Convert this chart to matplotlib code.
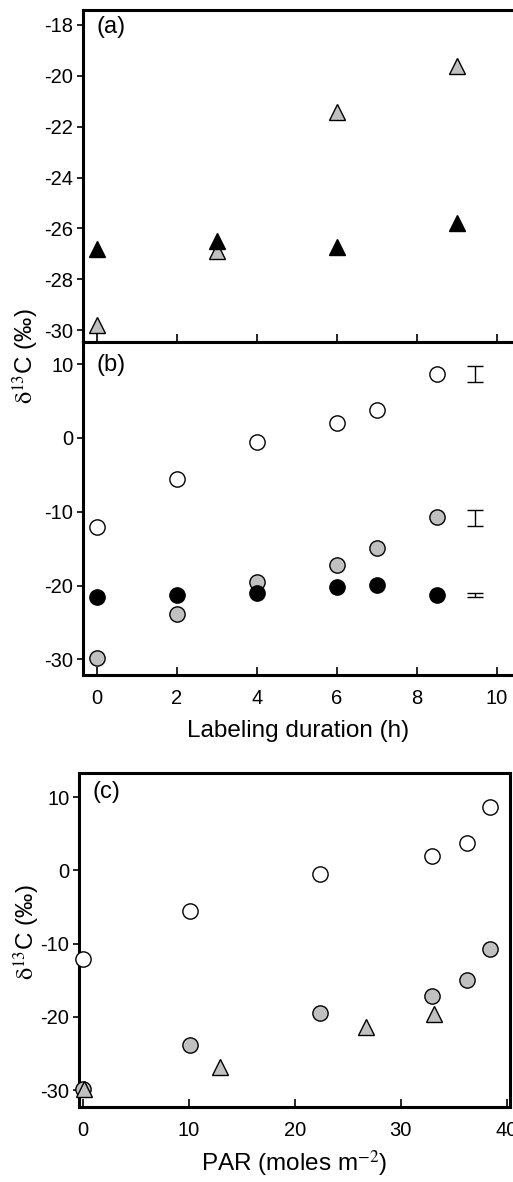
import numpy as np
import matplotlib.pyplot as plt

plt.rcParams['font.family'] = ['Liberation Sans', 'DejaVu Sans']
plt.rcParams['mathtext.fontset'] = 'stix'
plt.rcParams['axes.unicode_minus'] = False

# data --------------------------------------------------------------------
hours_a = [0, 3, 6, 9]
a_black = [-26.8, -26.5, -26.75, -25.77]   # filled triangles
a_gray = [-29.8, -26.9, -21.43, -19.6]     # grey triangles

hours_b = [0, 2, 4, 6, 7, 8.5]
b_white = [-12.1, -5.6, -0.5, 2.0, 3.75, 8.6]
b_gray = [-29.8, -23.8, -19.5, -17.2, -14.9, -10.7]
b_black = [-21.6, -21.3, -21.0, -20.2, -19.9, -21.2]

# typical error bars, drawn off to the right
err_x = [9.45, 9.45, 9.45]
err_y = [8.65, -10.8, -21.3]
err_half = [1.05, 1.1, 0.27]

# PAR for the same samples
par_circ = [0, 10.1, 22.4, 32.9, 36.2, 38.4]
par_tri = [0.1, 12.9, 26.7, 33.1]

GREY = '#c0c0c0'
W, H = 513, 1182
tick_fs = 14.5
lab_fs = 17.5

fig = plt.figure(figsize=(W/100, H/100), dpi=100)

def fbox(l, t, r, b):
    # pixel box -> figure fraction
    return [l/W, 1-b/H, (r-l)/W, (b-t)/H]

axa = fig.add_axes(fbox(83, 10, 513, 342))
axb = fig.add_axes(fbox(83, 342, 513, 675))
axc = fig.add_axes(fbox(79, 773, 510, 1107))

mk = dict(linestyle='none', markeredgecolor='black', markeredgewidth=1.0,
          clip_on=False, zorder=5)

# (a) ---------------------------------------------------------------------
axa.plot(hours_a, a_gray, marker='^', ms=12, markerfacecolor=GREY, **mk)
axa.plot(hours_a, a_black, marker='^', ms=12, markerfacecolor='black', **mk)
axa.set_xlim(-0.35, 10.4)
axa.set_ylim(-30.47, -17.41)
axa.set_yticks(np.arange(-30, -17, 2))
axa.set_xticks(np.arange(0, 11, 2))
axa.tick_params(axis='x', labelbottom=False)

# (b) ---------------------------------------------------------------------
axb.plot(hours_b, b_white, marker='o', ms=11, markerfacecolor='white', **mk)
axb.plot(hours_b, b_gray, marker='o', ms=11, markerfacecolor=GREY, **mk)
axb.plot(hours_b, b_black, marker='o', ms=11, markerfacecolor='black', **mk)
axb.errorbar(err_x, err_y, yerr=err_half, fmt='none', ecolor='black',
             elinewidth=1.0, capsize=6, capthick=1.0)
axb.set_xlim(-0.35, 10.4)
axb.set_ylim(-32.1, 13.0)
axb.set_yticks([-30, -20, -10, 0, 10])
axb.set_xticks(np.arange(0, 11, 2))
axb.set_xlabel('Labeling duration (h)', fontsize=lab_fs, labelpad=9)

# (c) ---------------------------------------------------------------------
axc.plot(par_circ, b_white, marker='o', ms=11, markerfacecolor='white', **mk)
axc.plot(par_circ, b_gray, marker='o', ms=11, markerfacecolor=GREY, **mk)
axc.plot(par_tri, a_gray, marker='^', ms=12, markerfacecolor=GREY, **mk)
axc.set_xlim(-0.38, 40.3)
axc.set_ylim(-32.3, 13.3)
axc.set_yticks([-30, -20, -10, 0, 10])
axc.set_xticks([0, 10, 20, 30, 40])
axc.set_xlabel('PAR (moles m$^{-2}$)', fontsize=lab_fs, labelpad=6)

for ax in (axa, axb, axc):
    for s in ax.spines.values():
        s.set_linewidth(2.2)
    ax.tick_params(axis='x', direction='in', length=6, width=1.2,
                   labelsize=tick_fs, pad=10, top=False)
    ax.tick_params(axis='y', direction='out', length=4, width=1.2,
                   labelsize=tick_fs, pad=3, right=False)
axa.spines['right'].set_visible(False)
axb.spines['right'].set_visible(False)

for ax, lab, dy in ((axa, '(a)', -4), (axb, '(b)', -9), (axc, '(c)', -6)):
    ax.annotate(lab, xy=(0, 1), xycoords='axes fraction', xytext=(10, dy),
                textcoords='offset points', va='top', ha='left', fontsize=17)

ylab = r'$\mathrm{\delta}^{13}$C (‰)'
fig.text(26/W, 1-356/H, ylab, rotation=90, ha='center', va='center', fontsize=lab_fs)
fig.text(27/W, 1-932/H, ylab, rotation=90, ha='center', va='center', fontsize=lab_fs)

fig.savefig('out.png', dpi=100)
